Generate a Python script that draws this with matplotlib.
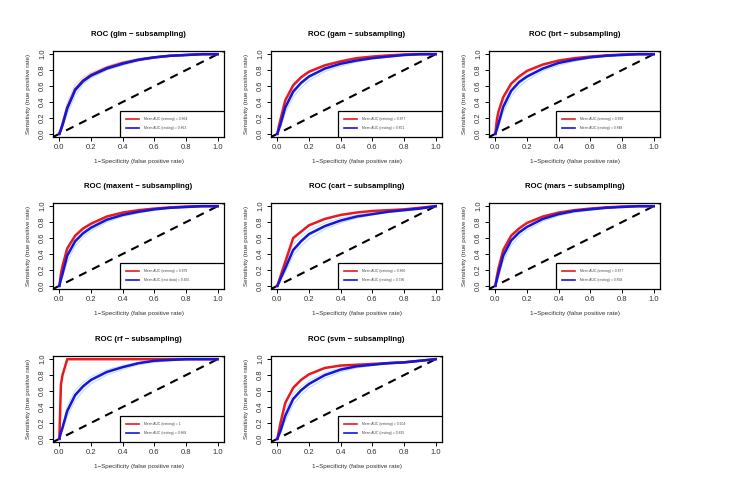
import matplotlib
matplotlib.use("Agg")
import matplotlib.pyplot as plt
from matplotlib.patches import Rectangle

plt.rcParams["font.family"] = ["Liberation Sans", "DejaVu Sans"]

# shared false positive rate grid
fpr = [0, 0.01, 0.02, 0.05, 0.1, 0.15, 0.2, 0.3, 0.4, 0.5, 0.6, 0.7, 0.8, 0.9, 1.0]

models = ["glm", "gam", "brt", "maxent", "cart", "mars", "rf", "svm"]

# mean ROC curves (training / testing)
glm_train = [0, .06, .12, .33, .56, .67, .74, .83, .89, .93, .96, .98, .99, 1, 1]
glm_test = [0, .05, .11, .32, .55, .66, .73, .82, .88, .93, .96, .98, .99, 1, 1]
gam_train = [0, .10, .18, .42, .61, .71, .78, .86, .91, .95, .97, .985, .995, 1, 1]
gam_test = [0, .06, .12, .33, .53, .64, .72, .82, .88, .92, .95, .97, .99, 1, 1]
brt_train = [0, .18, .28, .46, .63, .72, .79, .87, .92, .95, .97, .985, .995, 1, 1]
brt_test = [0, .06, .13, .34, .54, .65, .72, .82, .89, .93, .96, .98, .99, 1, 1]
maxent_train = [0, .15, .25, .47, .63, .72, .78, .87, .92, .95, .97, .985, .995, 1, 1]
maxent_test = [0, .08, .15, .38, .56, .66, .73, .83, .89, .93, .96, .98, .99, 1, 1]
cart_train = [0, .06, .12, .30, .60, .68, .76, .84, .89, .92, .94, .95, .96, .98, 1]
cart_test = [0, .04, .09, .22, .45, .56, .65, .75, .82, .87, .90, .93, .95, .97, 1]
mars_train = [0, .12, .22, .45, .63, .72, .79, .87, .92, .95, .97, .985, .995, 1, 1]
mars_test = [0, .08, .16, .38, .57, .67, .74, .84, .90, .94, .96, .98, .99, 1, 1]
rf_train = [0, .68, .80, 1, 1, 1, 1, 1, 1, 1, 1, 1, 1, 1, 1]
rf_test = [0, .08, .14, .35, .55, .66, .74, .84, .90, .95, .98, .99, 1, 1, 1]
svm_train = [0, .10, .20, .45, .64, .74, .81, .89, .92, .93, .94, .95, .96, .98, 1]
svm_test = [0, .05, .10, .29, .50, .61, .69, .80, .87, .91, .93, .95, .96, .98, 1]

# a few individual subsampling replicates (testing)
glm_reps = [[0, .03, .07, .25, .48, .62, .70, .80, .86, .91, .95, .97, .98, .99, 1],
            [0, .08, .16, .40, .62, .71, .77, .85, .91, .95, .97, .99, 1, 1, 1],
            [0, .05, .10, .30, .52, .65, .72, .81, .87, .92, .96, .98, .99, 1, 1]]
gam_reps = [[0, .03, .08, .26, .46, .58, .67, .78, .85, .90, .94, .96, .98, .99, 1],
            [0, .08, .15, .38, .58, .69, .76, .85, .90, .94, .97, .98, .99, 1, 1],
            [0, .05, .10, .30, .50, .62, .70, .80, .87, .91, .95, .97, .99, 1, 1]]
brt_reps = [[0, .03, .08, .27, .47, .59, .67, .79, .86, .91, .95, .97, .99, 1, 1],
            [0, .10, .18, .40, .59, .69, .76, .85, .91, .95, .97, .98, .99, 1, 1],
            [0, .05, .11, .31, .51, .62, .70, .81, .88, .92, .96, .98, .99, 1, 1]]
maxent_reps = [[0, .05, .10, .30, .50, .61, .69, .80, .87, .91, .95, .97, .98, 1, 1],
               [0, .11, .20, .43, .60, .70, .76, .85, .91, .94, .97, .98, .99, 1, 1],
               [0, .07, .13, .35, .54, .64, .71, .82, .88, .92, .96, .98, .99, 1, 1]]
cart_reps = [[0, .03, .06, .17, .38, .50, .59, .71, .79, .85, .89, .92, .94, .96, 1],
             [0, .05, .11, .27, .52, .62, .70, .79, .85, .89, .92, .94, .96, .98, 1],
             [0, .04, .08, .20, .42, .54, .63, .73, .81, .86, .90, .93, .95, .97, 1]]
mars_reps = [[0, .05, .11, .31, .51, .62, .70, .81, .88, .92, .95, .97, .99, 1, 1],
             [0, .10, .20, .43, .61, .71, .78, .86, .91, .95, .97, .98, .99, 1, 1],
             [0, .07, .14, .35, .55, .65, .73, .83, .89, .93, .96, .98, .99, 1, 1]]
rf_reps = [[0, .05, .10, .28, .48, .60, .69, .80, .87, .93, .96, .98, .99, 1, 1],
           [0, .10, .18, .41, .61, .71, .78, .87, .92, .96, .98, .99, 1, 1, 1],
           [0, .07, .12, .32, .52, .63, .72, .82, .89, .94, .97, .99, 1, 1, 1]]
svm_reps = [[0, .03, .07, .22, .43, .55, .64, .76, .84, .89, .92, .94, .95, .97, 1],
            [0, .07, .13, .35, .56, .66, .73, .83, .89, .92, .94, .96, .97, .99, 1],
            [0, .05, .09, .27, .48, .59, .67, .79, .86, .90, .93, .95, .96, .98, 1]]

train_curves = [glm_train, gam_train, brt_train, maxent_train,
                cart_train, mars_train, rf_train, svm_train]
test_curves = [glm_test, gam_test, brt_test, maxent_test,
               cart_test, mars_test, rf_test, svm_test]
rep_curves = [glm_reps, gam_reps, brt_reps, maxent_reps,
              cart_reps, mars_reps, rf_reps, svm_reps]

auc_train = ["0.864", "0.877", "0.899", "0.879", "0.860", "0.877", "1", "0.904"]
auc_test = ["0.863", "0.851", "0.848", "0.855", "0.796", "0.858", "0.868", "0.835"]
test_label = ["testing", "testing", "testing", "test data", "testing",
              "testing", "testing", "testing"]

W, H = 738, 483
fig = plt.figure(figsize=(W / 100, H / 100), dpi=100)
fig.patch.set_facecolor("white")

col_left = [53, 271, 489]
row_top = [51, 203, 356]
aw, ah = 171, 86
rep_colors = ["#b9dcec", "#c6e2f0", "#cfe8d2"]

for i, m in enumerate(models):
    r, c = divmod(i, 3)
    ax = fig.add_axes([col_left[c] / W, 1 - (row_top[r] + ah) / H, aw / W, ah / H])
    ax.set_xlim(-0.04, 1.04)
    ax.set_ylim(-0.04, 1.04)

    for rep, col in zip(rep_curves[i], rep_colors):
        ax.plot(fpr, rep, color=col, lw=0.7, zorder=1)
    ax.plot([-0.04, 1.04], [-0.04, 1.04], color="black", lw=1.5,
            linestyle=(0, (4, 3)), zorder=2)
    ax.plot(fpr, train_curves[i], color="#e8191f", lw=1.8, zorder=3)
    ax.plot(fpr, test_curves[i], color="#1515e0", lw=1.8, zorder=4)

    # legend box in the lower right, drawn like the R original
    ax.add_patch(Rectangle((0.385, -0.04), 0.655, 0.33, facecolor="white",
                           edgecolor="black", lw=0.9, zorder=5))
    ax.plot([0.42, 0.50], [0.18, 0.18], color="#e8191f", lw=1.2, zorder=6)
    ax.plot([0.42, 0.50], [0.07, 0.07], color="#1515e0", lw=1.2, zorder=6)
    ax.text(0.535, 0.18, f"Mean AUC (training) = {auc_train[i]}", fontsize=2.4,
            va="center", ha="left", color="#444444", zorder=6)
    ax.text(0.535, 0.07, f"Mean AUC ({test_label[i]}) = {auc_test[i]}", fontsize=2.4,
            va="center", ha="left", color="#444444", zorder=6)

    ax.set_xticks([0, 0.2, 0.4, 0.6, 0.8, 1.0])
    ax.set_yticks([0, 0.2, 0.4, 0.6, 0.8, 1.0])
    ax.set_xticklabels(["0.0", "0.2", "0.4", "0.6", "0.8", "1.0"])
    ax.set_yticklabels(["0.0", "0.2", "0.4", "0.6", "0.8", "1.0"],
                       rotation=90, va="center")
    ax.tick_params(labelsize=5.5, length=3, width=0.7, pad=2, labelcolor="#333333")
    for s in ax.spines.values():
        s.set_linewidth(0.9)
    ax.set_xlabel("1\u2212Specificity (false positive rate)", fontsize=4.5,
                  labelpad=6, color="#333333")
    ax.set_ylabel("Sensitivity (true positive rate)", fontsize=4.5,
                  labelpad=6, color="#333333")
    ax.text(0.5, 1.19, f"ROC ({m} \u2212 subsampling)", transform=ax.transAxes,
            ha="center", va="center", fontsize=5.6, fontweight="bold")

fig.savefig("out.png", dpi=100)
